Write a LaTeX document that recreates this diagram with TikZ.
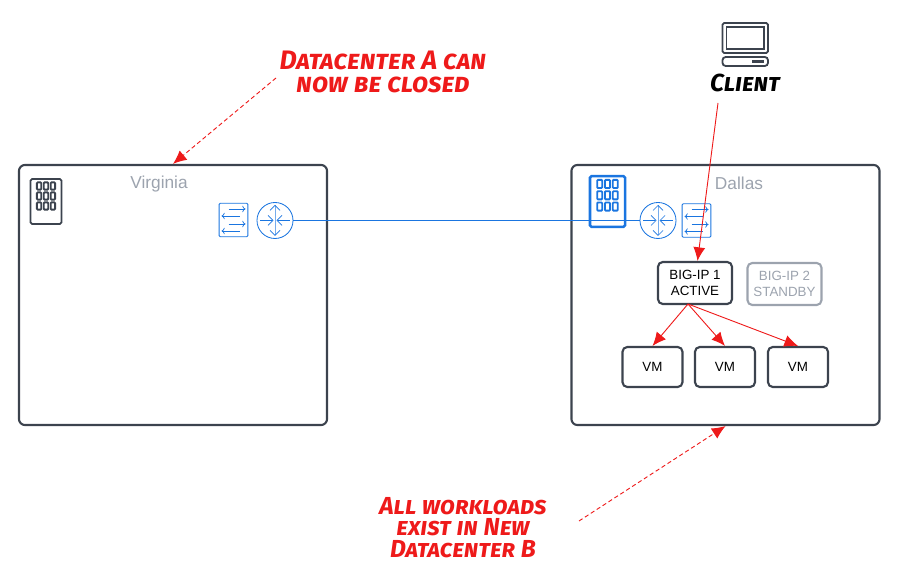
\documentclass[tikz,border=0pt]{standalone}
\usepackage{fontspec}
\setmainfont{Liberation Sans}
\newfontfamily\notefont[Letters=SmallCaps]{Fira Sans}
\usepackage{xcolor}
\usetikzlibrary{arrows.meta,positioning,calc}

\definecolor{boxdark}{HTML}{3C434E}
\definecolor{boxgray}{HTML}{9CA3AE}
\definecolor{netblue}{HTML}{1A75E0}
\definecolor{noteired}{HTML}{EE1A1A}

\tikzset{
  site/.style={draw=boxdark, line width=1.5pt, rounded corners=1.5mm, minimum width=7.7cm, minimum height=6.5cm},
  sitename/.style={text=boxgray, font=\fontsize{12.3}{14}\selectfont},
  device/.style={draw=boxdark, line width=1.5pt, rounded corners=1.2mm, minimum width=1.85cm, minimum height=1.05cm, align=center, font=\fontsize{9.5}{11.5}\selectfont},
  devicegray/.style={device, draw=boxgray, text=boxgray},
  vmbox/.style={device, minimum width=1.5cm, minimum height=1cm},
  router/.style={draw=netblue, fill=white, circle, line width=.6pt, minimum size=.9cm, inner sep=0pt},
  switchbox/.style={draw=netblue, fill=white, rounded corners=.3mm, line width=.6pt, minimum width=.72cm, minimum height=.84cm, inner sep=0pt},
  note/.style={text=noteired, align=center, font=\notefont\bfseries\itshape\fontsize{19}{16}\selectfont},
  notesmall/.style={note, font=\notefont\bfseries\itshape\fontsize{17.5}{15.5}\selectfont},
  flow/.style={draw=noteired, line width=.65pt, -{Latex[length=3.4mm,width=3mm]}},
  pics/building/.style={code={
    \draw[rounded corners=.4mm, line width=#1] (-15.5,-22.5) rectangle (15.5,22.5);
    \foreach \i in {-1,0,1}
      \foreach \j in {0,1,2}
        \draw[rounded corners=.2mm, line width=1.3pt] ($(\i*6.9,-15.5+\j*10)+(-2.2,-3.6)$) rectangle ($(\i*6.9,-15.5+\j*10)+(2.2,3.6)$);
  }},
  pics/routermark/.style={code={
    \draw[netblue, line width=.5pt] (-15,0) -- (-3,0) (3,0) -- (15,0);
    \draw[netblue!60, line width=.7pt] (0,-15) -- (0,15);
    \draw[netblue, line width=.5pt] (-7,-5) -- (-2,0) -- (-7,5) (7,-5) -- (2,0) -- (7,5);
    \draw[netblue, line width=.5pt] (-5,-10) -- (0,-15) -- (5,-10) (-5,10) -- (0,15) -- (5,10);
  }},
  pics/switchmark/.style={code={
    \draw[netblue, line width=.5pt, -{To[length=.8mm,width=1.6mm]}] (-5,-11) -- (12,-11);
    \draw[netblue, line width=.5pt, -{To[length=.8mm,width=1.6mm]}] (6,-4) -- (-12,-4);
    \draw[netblue, line width=.5pt, -{To[length=.8mm,width=1.6mm]}] (-5,4) -- (12,4);
    \draw[netblue, line width=.5pt, -{To[length=.8mm,width=1.6mm]}] (6,11) -- (-12,11);
  }},
}

\begin{document}
\begin{tikzpicture}[x=.025cm,y=-.025cm]
  \useasboundingbox (0,0) rectangle (897,582);

  \node[site] (virginia) at (173,295) {};
  \node[site] (dallas) at (725.5,295) {};
  \node[sitename] (virginialabel) at (159,184) {Virginia};
  \node[sitename] (dallaslabel) at (739,183) {Dallas};

  \pic[draw=boxdark] at (46,201.5) {building=1.2pt};
  \pic[draw=netblue, scale=1.13] at (607.5,201.5) {building=1.8pt};

  % network
  \node[switchbox] (switcha) at (233.5,220) {};
  \node[switchbox] (switchb) at (696.5,220.5) {};
  \pic at (switcha) {switchmark};
  \pic at (switchb) {switchmark};
  \node[router] (routera) at (275,220.5) {};
  \node[router] (routerb) at (658,220.5) {};
  \pic at (routera) {routermark};
  \pic at (routerb) {routermark};
  \draw[netblue, line width=.7pt] (routera) -- (routerb);

  % devices
  \node[device] (bigipa) at (695,283) {BIG-IP 1\\ACTIVE};
  \node[devicegray] (bigipb) at (784.5,284) {BIG-IP 2\\STANDBY};
  \node[vmbox] (vma) at (652.5,367) {VM};
  \node[vmbox] (vmb) at (725,367) {VM};
  \node[vmbox] (vmc) at (798,367) {VM};

  % client
  \draw[boxdark, line width=1.3pt, rounded corners=.4mm] (722.5,23) rectangle (768,53);
  \draw[boxdark, line width=.9pt] (726.5,27) rectangle (764,49);
  \draw[boxdark, line width=1.3pt, rounded corners=.8mm] (722.5,57) rectangle (768,66);
  \fill[boxdark] (752,60) rectangle (764,63.5);
  \node[notesmall, text=black] (client) at (745,83) {Client};

  % flows
  \coordinate (clientflow) at (718,103);
  \coordinate (fan) at (688,304);
  \draw[flow] (clientflow) -- (bigipa.north -| 697.5,0);
  \draw[flow] (fan) -- (vma.north);
  \draw[flow] (fan) -- (vmb.north);
  \draw[flow] (fan) -- (vmc.north);

  % notes
  \node[note] (notea) at (383,72) {Datacenter A can\\now be closed};
  \node[notesmall] (noteb) at (463,527.5) {All workloads\\exist in New\\Datacenter B};
  \coordinate (notealead) at (276,78);
  \coordinate (noteblead) at (579,521);
  \draw[flow, densely dashed] (notealead) -- (virginia.north);
  \draw[flow, densely dashed] (noteblead) -- (dallas.south);
\end{tikzpicture}
\end{document}
